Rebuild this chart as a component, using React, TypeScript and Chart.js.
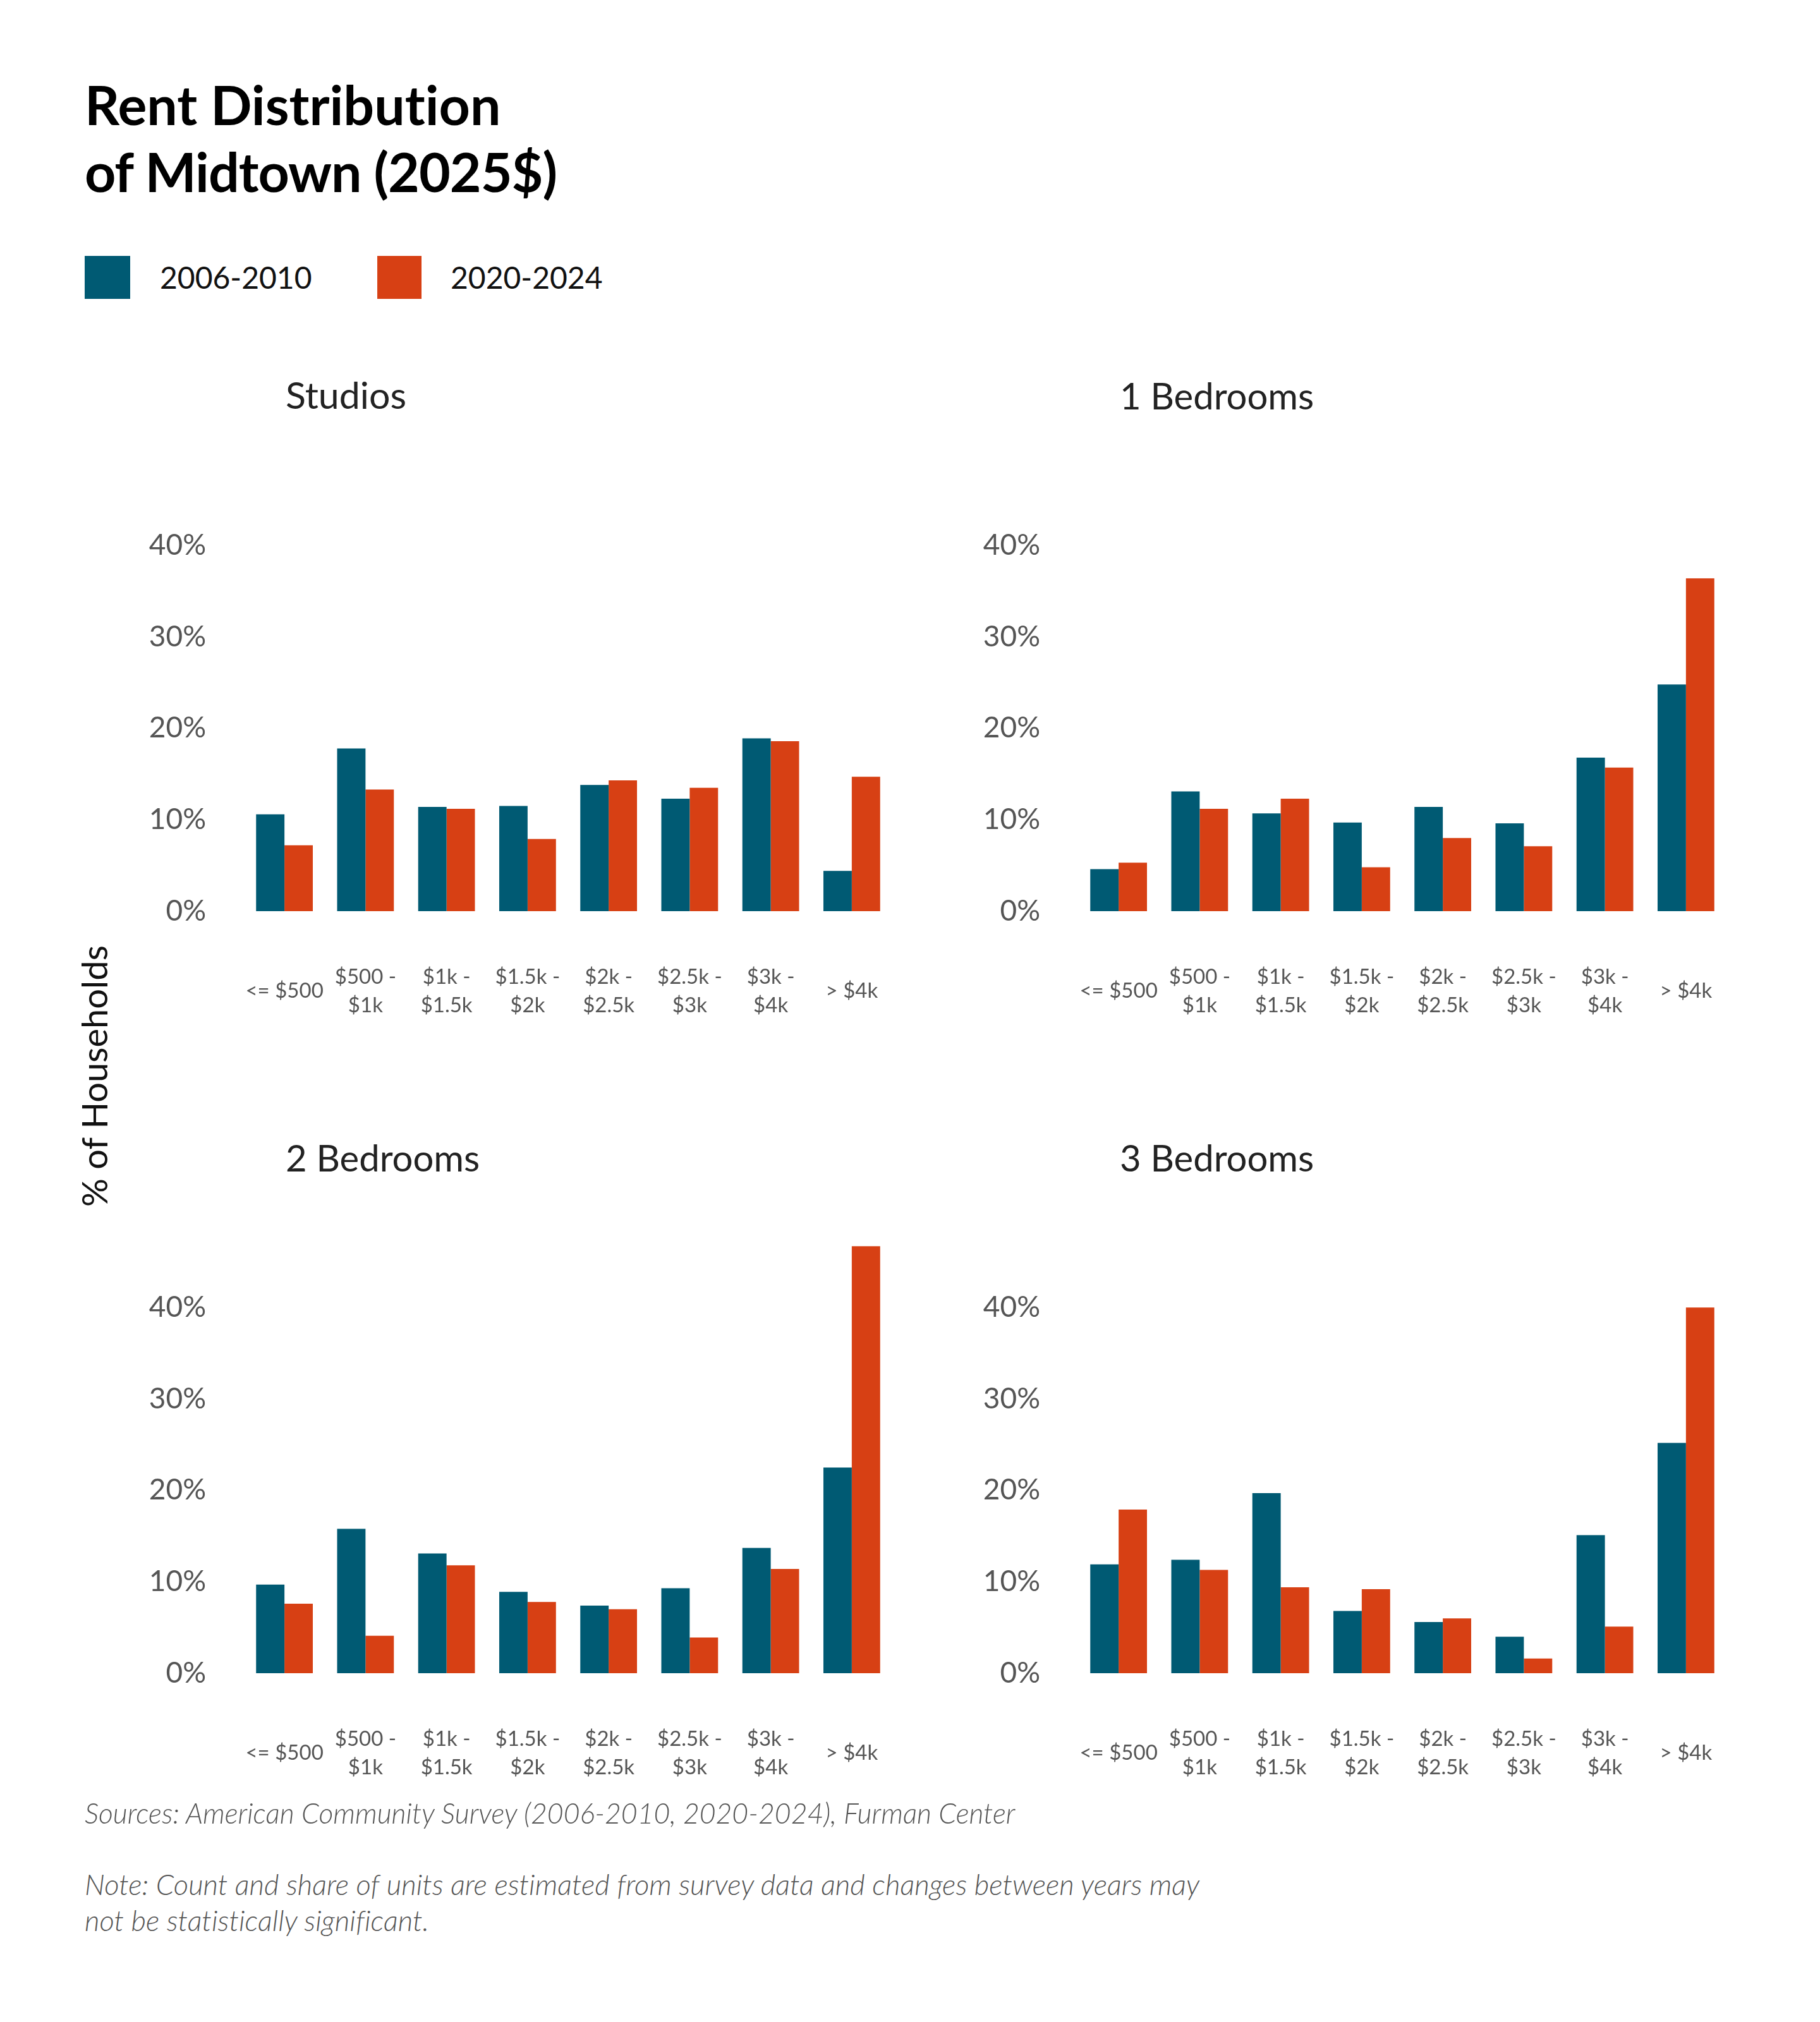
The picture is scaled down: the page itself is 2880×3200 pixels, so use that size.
import React, { useEffect, useRef } from "react";
import { Chart, registerables } from "chart.js";
Chart.register(...registerables);

const categories = ["<= $500", "$500 - $1k", "$1k - $1.5k", "$1.5k - $2k", "$2k - $2.5k", "$2.5k - $3k", "$3k - $4k", "> $4k"];
const seriesNames = ["2006-2010", "2020-2024"];
const studios2006 = [10.6, 17.8, 11.4, 11.5, 13.8, 12.3, 18.9, 4.4];
const studios2020 = [7.2, 13.3, 11.2, 7.9, 14.3, 13.5, 18.6, 14.7];
const oneBed2006 = [4.6, 13.1, 10.7, 9.7, 11.4, 9.6, 16.8, 24.8];
const oneBed2020 = [5.3, 11.2, 12.3, 4.8, 8.0, 7.1, 15.7, 36.4];
const twoBed2006 = [9.7, 15.8, 13.1, 8.9, 7.4, 9.3, 13.7, 22.5];
const twoBed2020 = [7.6, 4.1, 11.8, 7.8, 7.0, 3.9, 11.4, 46.7];
const threeBed2006 = [11.9, 12.4, 19.7, 6.8, 5.6, 4.0, 15.1, 25.2];
const threeBed2020 = [17.9, 11.3, 9.4, 9.2, 6.0, 1.6, 5.1, 40.0];
const yTickStep = 10;
const yMax = 47;
const panelTitles = ["Studios", "1 Bedrooms", "2 Bedrooms", "3 Bedrooms"];

const BLUE = "#005a73";
const ORANGE = "#d74014";
const FONT = "Lato, 'Noto Sans', sans-serif";

const Y_AXIS_W = 200;
const X_AXIS_H = 200;
const PAD_TOP = 20;
const PAD_RIGHT = 10;
const AREA_W = 1026;
const AREA_H = 680;

function Panel(props: { a: number[]; b: number[]; chartLeft: number; chartBottom: number }) {
  const ref = useRef<HTMLCanvasElement | null>(null);
  const { a, b, chartLeft, chartBottom } = props;
  useEffect(() => {
    if (!ref.current) return;
    const chart = new Chart(ref.current, {
      type: "bar",
      data: {
        labels: categories,
        datasets: [
          { label: seriesNames[0], data: a, backgroundColor: BLUE, borderWidth: 0, categoryPercentage: 0.7, barPercentage: 1.0 },
          { label: seriesNames[1], data: b, backgroundColor: ORANGE, borderWidth: 0, categoryPercentage: 0.7, barPercentage: 1.0 },
        ],
      },
      options: {
        animation: false,
        responsive: false,
        devicePixelRatio: 1,
        layout: { padding: { top: PAD_TOP, right: PAD_RIGHT, left: 0, bottom: 0 } },
        plugins: { legend: { display: false }, tooltip: { enabled: false }, title: { display: false } },
        scales: {
          x: {
            grid: { display: false, drawTicks: false },
            border: { display: false },
            afterFit: (s: any) => {
              s.height = X_AXIS_H;
              s.paddingLeft = 0;
              s.paddingRight = 0;
            },
            ticks: {
              color: "#555",
              font: { family: FONT, size: 33, lineHeight: 1.36 },
              padding: 104,
              maxRotation: 0,
              minRotation: 0,
              autoSkip: false,
              crossAlign: "center",
              callback: function (this: any, v: any, i: number) {
                const lab = categories[i];
                const parts = lab.split(" - ");
                return parts.length > 1 ? [parts[0] + " -", parts[1]] : lab;
              },
            },
          },
          y: {
            min: 0,
            max: yMax,
            grid: { display: false, drawTicks: false },
            border: { display: false },
            afterFit: (s: any) => {
              s.width = Y_AXIS_W;
              s.paddingTop = 0;
              s.paddingBottom = 0;
            },
            ticks: {
              stepSize: yTickStep,
              includeBounds: false,
              color: "#555",
              font: { family: FONT, size: 46 },
              padding: 60,
              callback: (v: any) => (Number(v) % yTickStep === 0 ? v + "%" : ""),
            },
          },
        },
      },
    });
    return () => chart.destroy();
  }, []);
  const w = Y_AXIS_W + AREA_W + PAD_RIGHT;
  const h = PAD_TOP + AREA_H + X_AXIS_H;
  return (
    <canvas
      ref={ref}
      width={w}
      height={h}
      style={{ position: "absolute", left: chartLeft - Y_AXIS_W, top: chartBottom - AREA_H - PAD_TOP, width: w, height: h }}
    />
  );
}

function Text(props: { x: number; baseline: number; size: number; children: any; style?: any }) {
  const { x, baseline, size, children, style } = props;
  return (
    <div
      style={{
        position: "absolute",
        left: x,
        top: baseline - 0.987 * size,
        fontFamily: FONT,
        fontSize: size,
        lineHeight: 1.2,
        whiteSpace: "nowrap",
        fontVariantLigatures: "none",
        ...style,
      }}
    >
      {children}
    </div>
  );
}

export default function App() {
  const leftCol = 386;
  const rightCol = 1706;
  const topRow = 1442;
  const bottomRow = 2648;
  const noteStyle = { fontStyle: "italic", fontWeight: 300, color: "#555" };
  return (
    <div style={{ position: "absolute", left: 0, top: 0, width: 2880, height: 3200, background: "#fff", overflow: "hidden" }}>
      <Text x={134} baseline={198} size={86} style={{ fontWeight: 700, color: "#000" }}>Rent Distribution</Text>
      <Text x={134} baseline={304} size={86} style={{ fontWeight: 700, color: "#000", letterSpacing: -1 }}>of Midtown (2025$)</Text>

      <div style={{ position: "absolute", left: 134, top: 405, width: 72, height: 68, background: BLUE }} />
      <Text x={253} baseline={457} size={48} style={{ color: "#111" }}>{seriesNames[0]}</Text>
      <div style={{ position: "absolute", left: 597, top: 405, width: 70, height: 68, background: ORANGE }} />
      <Text x={713} baseline={457} size={48} style={{ color: "#111" }}>{seriesNames[1]}</Text>

      <Text x={452} baseline={648} size={59} style={{ color: "#222" }}>{panelTitles[0]}</Text>
      <Text x={1772} baseline={648} size={58} style={{ color: "#222" }}>{panelTitles[1]}</Text>
      <Text x={452} baseline={1854} size={58} style={{ color: "#222" }}>{panelTitles[2]}</Text>
      <Text x={1772} baseline={1854} size={58} style={{ color: "#222" }}>{panelTitles[3]}</Text>

      <div
        style={{
          position: "absolute",
          left: 149,
          top: 1703,
          transform: "translate(-50%, -50%) rotate(-90deg)",
          fontFamily: FONT,
          fontSize: 56,
          color: "#111",
          whiteSpace: "nowrap",
          lineHeight: 1.2,
        }}
      >
        % of Households
      </div>

      <Panel a={studios2006} b={studios2020} chartLeft={leftCol} chartBottom={topRow} />
      <Panel a={oneBed2006} b={oneBed2020} chartLeft={rightCol} chartBottom={topRow} />
      <Panel a={twoBed2006} b={twoBed2020} chartLeft={leftCol} chartBottom={bottomRow} />
      <Panel a={threeBed2006} b={threeBed2020} chartLeft={rightCol} chartBottom={bottomRow} />

      <Text x={134} baseline={2886} size={44.5} style={noteStyle}>
        Sources: American Community Survey (2006-2010, 2020-2024), Furman Center
      </Text>
      <Text x={134} baseline={3000} size={45.5} style={noteStyle}>
        Note: Count and share of units are estimated from survey data and changes between years may
      </Text>
      <Text x={134} baseline={3057} size={45.5} style={noteStyle}>
        not be statistically significant.
      </Text>
    </div>
  );
}
